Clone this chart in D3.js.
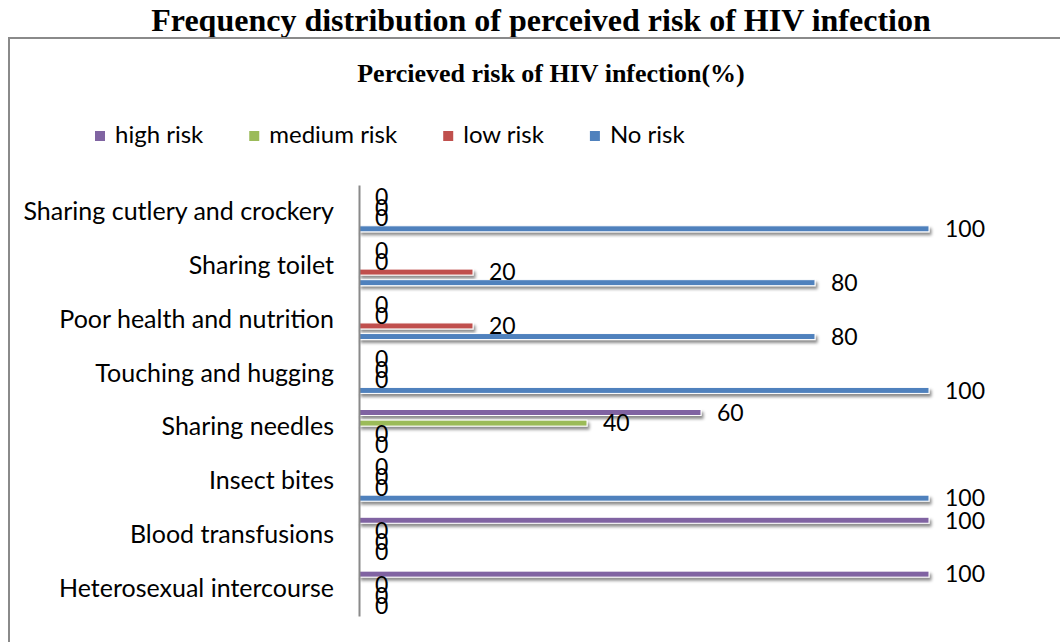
<!DOCTYPE html>
<html>
<head>
<meta charset="utf-8">
<script src="https://cdn.jsdelivr.net/npm/d3@7"></script>
<style>
  html, body { margin: 0; padding: 0; background: #fff; }
  svg { display: block; }
</style>
</head>
<body>
<svg id="chart" width="1060" height="642"></svg>
<script>
const categories = ["Sharing cutlery and crockery", "Sharing toilet", "Poor health and nutrition", "Touching and hugging", "Sharing needles", "Insect bites", "Blood transfusions", "Heterosexual intercourse"];
const seriesNames = ["high risk", "medium risk", "low risk", "No risk"];
const highRisk   = [0, 0, 0, 0, 60, 0, 100, 100];
const mediumRisk = [0, 0, 0, 0, 40, 0, 0, 0];
const lowRisk    = [0, 20, 20, 0, 0, 0, 0, 0];
const noRisk     = [100, 80, 80, 100, 0, 100, 0, 0];
const seriesColors = ["#8064A2", "#9BBB59", "#C0504D", "#4F81BD"];
const mainTitle = "Frequency distribution of perceived risk of HIV infection";
const chartTitle = "Percieved risk of HIV infection(%)";

const seriesValues = [highRisk, mediumRisk, lowRisk, noRisk];
const SANS = "Lato, 'Open Sans', sans-serif";
const SERIF = "'Liberation Serif', 'Times New Roman', serif";

const svg = d3.select("#chart");

const defs = svg.append("defs");
const f = defs.append("filter").attr("id", "shadow")
  .attr("x", "-5%").attr("y", "-100%").attr("width", "110%").attr("height", "300%");
f.append("feDropShadow").attr("dx", 2).attr("dy", 3).attr("stdDeviation", 1.4)
  .attr("flood-color", "#000").attr("flood-opacity", 0.45);

// outer title
svg.append("text").attr("x", 541).attr("y", 31)
  .attr("text-anchor", "middle")
  .style("font-family", SERIF).style("font-weight", "bold").style("font-size", "32px")
  .text(mainTitle);

// chart frame
svg.append("rect").attr("x", 9).attr("y", 38).attr("width", 1100).attr("height", 700)
  .attr("fill", "none").attr("stroke", "#8a8a8a").attr("stroke-width", 2);

// chart title
svg.append("text").attr("x", 551).attr("y", 82)
  .attr("text-anchor", "middle")
  .style("font-family", SERIF).style("font-weight", "bold").style("font-size", "26px")
  .text(chartTitle);

// legend
const legend = svg.append("g");
let lx = 95;
seriesNames.forEach((name, i) => {
  legend.append("rect").attr("x", lx).attr("y", 131).attr("width", 10).attr("height", 10)
    .attr("fill", seriesColors[i]);
  const t = legend.append("text").attr("x", lx + 20).attr("y", 143)
    .style("font-family", SANS).style("font-size", "24px").attr("fill", "#000")
    .text(name);
  lx = lx + 20 + t.node().getComputedTextLength() + 46;
});

// scales
const x = d3.scaleLinear().domain([0, 100]).range([359, 929]);
const y = d3.scaleBand().domain(categories).range([185, 616]).padding(0);
const ys = d3.scaleBand().domain(seriesNames).range([6.7, 49.1]).padding(0);
const barH = 6;

const rows = [];
categories.forEach((c, ci) => {
  seriesNames.forEach((s, si) => {
    rows.push({ cat: c, series: s, value: seriesValues[si][ci], color: seriesColors[si] });
  });
});

const barG = svg.append("g");
barG.selectAll("rect").data(rows.filter(d => d.value > 0)).join("rect")
  .attr("x", x(0))
  .attr("y", d => y(d.cat) + ys(d.series) + ys.bandwidth() / 2 - barH / 2)
  .attr("width", d => x(d.value) - x(0))
  .attr("height", barH)
  .attr("fill", d => d.color)
  .attr("stroke", "#fff").attr("stroke-width", 1)
  .attr("filter", "url(#shadow)");

// axis (category)
const axis = d3.axisLeft(y).tickSize(0).tickPadding(25);
const ag = svg.append("g").attr("transform", `translate(${x(0)},0)`).call(axis);
ag.select(".domain").attr("stroke", "#8a8a8a").attr("stroke-width", 2);
ag.selectAll(".tick text")
  .style("font-family", SANS).style("font-size", "25px").attr("fill", "#000");

// data labels
svg.append("g").selectAll("text").data(rows).join("text")
  .attr("x", d => x(d.value) + 16)
  .attr("y", d => y(d.cat) + ys(d.series) + ys.bandwidth() / 2)
  .attr("dy", "0.36em")
  .style("font-family", SANS).style("font-size", "23px").attr("fill", "#000")
  .text(d => d.value);
</script>
</body>
</html>
